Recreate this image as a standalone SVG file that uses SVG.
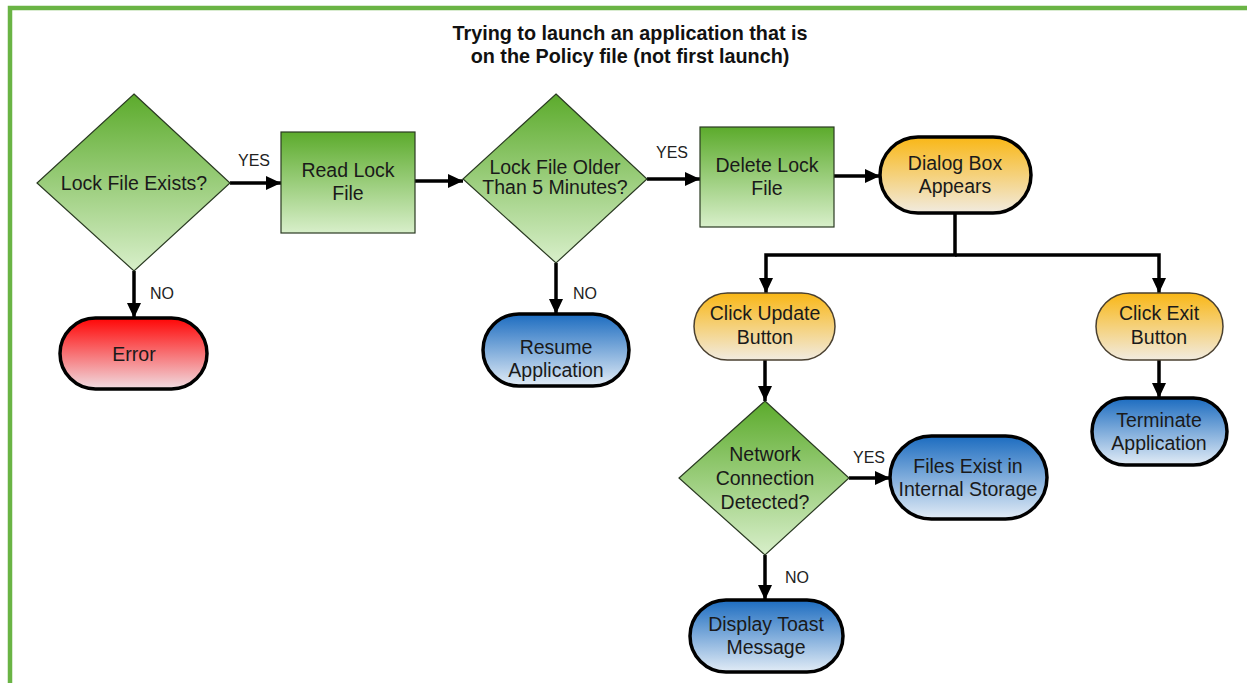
<svg xmlns="http://www.w3.org/2000/svg" width="1247" height="683" viewBox="0 0 1247 683">
<defs>
<linearGradient id="gGreen" x1="0" y1="0" x2="0" y2="1"><stop offset="0" stop-color="#5cab2c"/><stop offset="1" stop-color="#d8efca"/></linearGradient>
<linearGradient id="gYellow" x1="0" y1="0" x2="0" y2="1"><stop offset="0" stop-color="#f9b716"/><stop offset="1" stop-color="#f1ebe0"/></linearGradient>
<linearGradient id="gBlue" x1="0" y1="0" x2="0" y2="1"><stop offset="0" stop-color="#1c6cc0"/><stop offset="1" stop-color="#e2ecf6"/></linearGradient>
<linearGradient id="gRed" x1="0" y1="0" x2="0" y2="1"><stop offset="0" stop-color="#ff0505"/><stop offset="1" stop-color="#f0dde2"/></linearGradient>
<marker id="arr" markerUnits="userSpaceOnUse" markerWidth="16" markerHeight="14" refX="15" refY="7" orient="auto"><path d="M0,0 L15,7 L0,14 Z" fill="#000"/></marker>
</defs>
<style>
.t{font-family:"Liberation Sans",Arial,sans-serif;font-size:19.5px;fill:#1a1a1a;text-anchor:middle}
.lbl{font-family:"Liberation Sans",Arial,sans-serif;font-size:16px;fill:#222;text-anchor:middle}
.title{font-family:"Liberation Sans",Arial,sans-serif;font-size:19.8px;font-weight:bold;fill:#111;text-anchor:middle}
.gs{fill:url(#gGreen);stroke:#2a3a22;stroke-width:1.2}
.ys{fill:url(#gYellow);stroke:#4a4030;stroke-width:1.5}
.yb{fill:url(#gYellow);stroke:#000;stroke-width:3.5}
.bs{fill:url(#gBlue);stroke:#000;stroke-width:3.5}
.rs{fill:url(#gRed);stroke:#000;stroke-width:3.5}
.c{fill:none;stroke:#000;stroke-width:3.5}
</style>
<rect x="0" y="0" width="1247" height="683" fill="#fff"/>
<rect x="10" y="8" width="1260" height="700" fill="none" stroke="#6ab445" stroke-width="4.5"/>
<text class="title" x="630" y="40">Trying to launch an application that is</text>
<text class="title" x="630" y="63">on the Policy file (not first launch)</text>

<g id="connectors">
<path class="c" d="M230,183 H281" marker-end="url(#arr)"/>
<path class="c" d="M134,271 V318" marker-end="url(#arr)"/>
<path class="c" d="M415,181 H463" marker-end="url(#arr)"/>
<path class="c" d="M647,179 H700" marker-end="url(#arr)"/>
<path class="c" d="M556,263 V314" marker-end="url(#arr)"/>
<path class="c" d="M834,176 H880" marker-end="url(#arr)"/>
<path class="c" d="M955,213 V255 H766 V293" marker-end="url(#arr)"/>
<path class="c" d="M955,255 H1159 V293" marker-end="url(#arr)"/>
<path class="c" d="M765,360 V401" marker-end="url(#arr)"/>
<path class="c" d="M1159,360 V398" marker-end="url(#arr)"/>
<path class="c" d="M849,478 H890" marker-end="url(#arr)"/>
<path class="c" d="M765,555 V600" marker-end="url(#arr)"/>
<text class="lbl" x="254" y="166">YES</text>
<text class="lbl" x="162" y="299">NO</text>
<text class="lbl" x="672" y="158">YES</text>
<text class="lbl" x="585" y="299">NO</text>
<text class="lbl" x="869" y="463">YES</text>
<text class="lbl" x="797" y="583">NO</text>
</g>

<g id="lockExists">
<polygon class="gs" points="134,94 230,183 134,271 37,183"/>
<text class="t" x="134" y="190">Lock File Exists?</text>
</g>
<g id="readLock">
<rect class="gs" x="281" y="132" width="134" height="101"/>
<text class="t" x="348" y="177">Read Lock</text>
<text class="t" x="348" y="200">File</text>
</g>
<g id="error">
<rect class="rs" x="60" y="318" width="147" height="71" rx="35.5"/>
<text class="t" x="134" y="361">Error</text>
</g>
<g id="lockOlder">
<polygon class="gs" points="556,94 647,179 556,263 463,179"/>
<text class="t" x="555" y="174">Lock File Older</text>
<text class="t" x="555" y="194">Than 5 Minutes?</text>
</g>
<g id="resume">
<rect class="bs" x="483" y="314" width="146" height="72" rx="36"/>
<text class="t" x="556" y="354">Resume</text>
<text class="t" x="556" y="377">Application</text>
</g>
<g id="deleteLock">
<rect class="gs" x="700" y="127" width="134" height="100"/>
<text class="t" x="767" y="172">Delete Lock</text>
<text class="t" x="767" y="195">File</text>
</g>
<g id="dialog">
<rect class="yb" x="880" y="137" width="151" height="76" rx="38"/>
<text class="t" x="955" y="170">Dialog Box</text>
<text class="t" x="955" y="193">Appears</text>
</g>
<g id="clickUpdate">
<rect class="ys" x="694" y="293" width="141" height="67" rx="33.5"/>
<text class="t" x="765" y="320">Click Update</text>
<text class="t" x="765" y="344">Button</text>
</g>
<g id="clickExit">
<rect class="ys" x="1096" y="293" width="127" height="67" rx="33.5"/>
<text class="t" x="1159" y="320">Click Exit</text>
<text class="t" x="1159" y="344">Button</text>
</g>
<g id="terminate">
<rect class="bs" x="1092" y="398" width="135" height="67" rx="33.5"/>
<text class="t" x="1159" y="427">Terminate</text>
<text class="t" x="1159" y="450">Application</text>
</g>
<g id="network">
<polygon class="gs" points="765,401 849,478 765,555 679,478"/>
<text class="t" x="765" y="461">Network</text>
<text class="t" x="765" y="485">Connection</text>
<text class="t" x="765" y="509">Detected?</text>
</g>
<g id="filesExist">
<rect class="bs" x="890" y="436" width="157" height="83" rx="41.5"/>
<text class="t" x="968" y="473">Files Exist in</text>
<text class="t" x="968" y="496">Internal Storage</text>
</g>
<g id="toast">
<rect class="bs" x="690" y="600" width="153" height="72" rx="36"/>
<text class="t" x="766" y="631">Display Toast</text>
<text class="t" x="766" y="654">Message</text>
</g>
</svg>
